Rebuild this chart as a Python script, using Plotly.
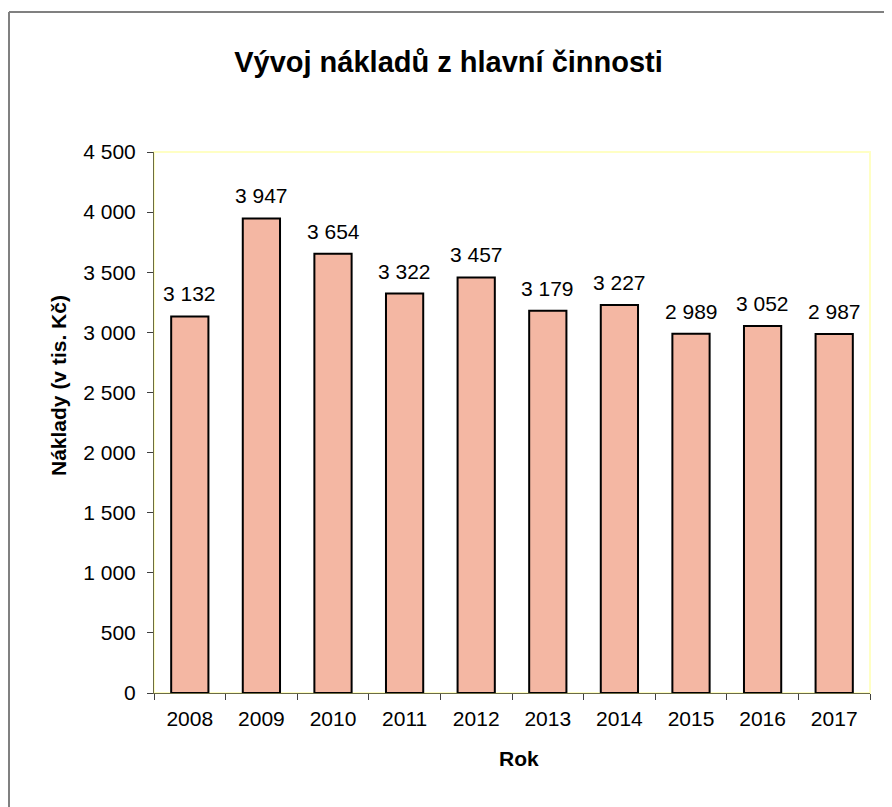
import plotly.graph_objects as go

years = ["2008", "2009", "2010", "2011", "2012", "2013", "2014", "2015", "2016", "2017"]
costs = [3132, 3947, 3654, 3322, 3457, 3179, 3227, 2989, 3052, 2987]
y_ticks = [0, 500, 1000, 1500, 2000, 2500, 3000, 3500, 4000, 4500]

title_text = "Vývoj nákladů z hlavní činnosti"
x_title = "Rok"
y_title = "Náklady (v tis. Kč)"

# page body has an 8px offset; work in screen pixels and convert
OFF = 8
SW, SH = 892, 807
W, H = SW - OFF, SH - OFF
PL, PR, PT, PB = 154, 870, 152, 693   # plot area in screen pixels
ML, MR, MT, MB = PL - OFF, SW - PR, PT - OFF, SH - PB
PW = PR - PL
PH = PB - PT

def px_x(p):
    return (p - PL) / PW

def px_y(p):
    return 1 - (p - PT) / PH

FONT = "Liberation Sans, Arial, sans-serif"
FS = 21

fig = go.Figure()
fig.add_trace(go.Bar(
    x=years, y=costs,
    marker=dict(color="#F4B7A3", line=dict(color="#000000", width=2)),
    hoverinfo="x+y",
))

annotations = []
for i, v in enumerate(costs):
    annotations.append(dict(
        x=i, y=v, xref="x", yref="y",
        text=f"{v:,}".replace(",", " "),
        showarrow=False, yanchor="bottom", yshift=9,
        font=dict(family=FONT, size=FS, color="#000000"),
    ))

annotations.append(dict(
    x=px_x(519), y=px_y(758), xref="paper", yref="paper",
    text=f"<b>{x_title}</b>", showarrow=False,
    xanchor="center", yanchor="middle",
    font=dict(family=FONT, size=FS, color="#000000"),
))
annotations.append(dict(
    x=px_x(58), y=px_y(386), xref="paper", yref="paper",
    text=f"<b>{y_title}</b>", showarrow=False, textangle=-90,
    xanchor="center", yanchor="middle",
    font=dict(family=FONT, size=FS, color="#000000"),
))

shapes = [
    dict(type="rect", xref="paper", yref="paper", x0=0, x1=1, y0=0, y1=1,
         line=dict(color="#FFFFC4", width=2), layer="below"),
    dict(type="line", xref="paper", yref="paper",
         x0=px_x(9), x1=px_x(9), y0=px_y(12), y1=px_y(SH + 5),
         line=dict(color="#808080", width=2)),
    dict(type="line", xref="paper", yref="paper",
         x0=px_x(9), x1=px_x(SW + 5), y0=px_y(12), y1=px_y(12),
         line=dict(color="#808080", width=2)),
]

fig.update_layout(
    width=W, height=H,
    margin=dict(l=ML, r=MR, t=MT, b=MB, autoexpand=False),
    paper_bgcolor="#FFFFFF", plot_bgcolor="#FFFFFF",
    separators=", ",
    bargap=0.48,
    showlegend=False,
    font=dict(family=FONT, size=FS, color="#000000"),
    title=dict(
        text=f"<b>{title_text}</b>", xref="container", yref="container",
        x=(448.5 - OFF) / W, y=1 - (62 - OFF) / H, xanchor="center", yanchor="middle",
        font=dict(family=FONT, size=29, color="#000000"),
    ),
    xaxis=dict(
        type="category", tickson="boundaries", range=[-0.5, 9.5],
        ticks="outside", ticklen=6, tickcolor="#404040", tickwidth=1,
        showline=True, linecolor="#6b6b45", linewidth=1,
        showgrid=False, zeroline=False, automargin=False, tickangle=0,
        tickfont=dict(family=FONT, size=FS, color="#000000"),
        ticklabelstandoff=7,
    ),
    yaxis=dict(
        range=[0, 4500], tickvals=y_ticks, tickformat=",d",
        ticks="outside", ticklen=6, tickcolor="#404040", tickwidth=1,
        showline=True, linecolor="#6b6b45", linewidth=1,
        showgrid=False, zeroline=False, automargin=False,
        tickfont=dict(family=FONT, size=FS, color="#000000"),
        ticklabelstandoff=7,
    ),
    annotations=annotations,
    shapes=shapes,
)

fig.write_html("out.html")
